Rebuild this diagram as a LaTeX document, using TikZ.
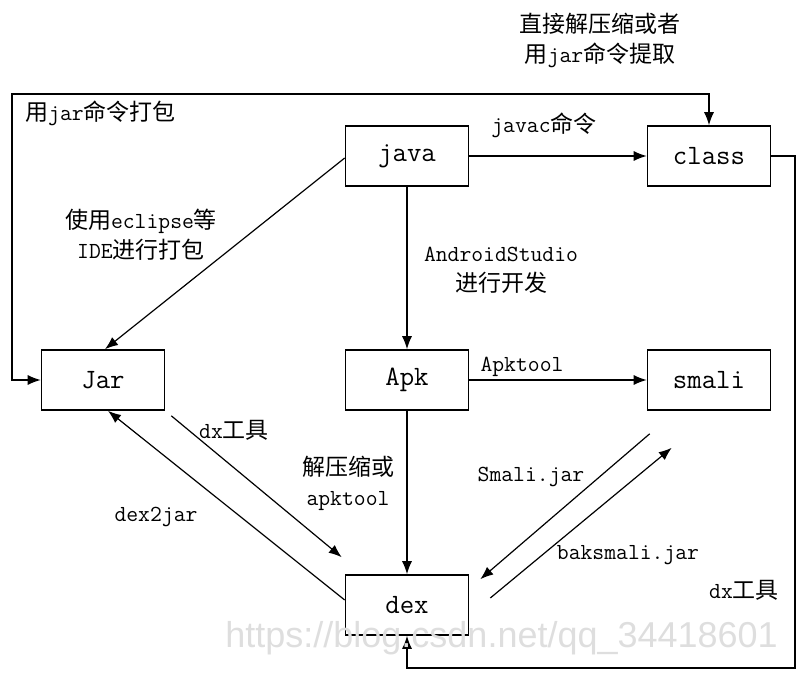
\documentclass[tikz,border=0pt]{standalone}
\usepackage{fontspec}
\newfontfamily\cjk{Noto Sans CJK SC}
\newfontfamily\wmfont{Liberation Sans}
\usetikzlibrary{arrows.meta}
\newcommand\zh[1]{{\cjk #1}}
\begin{document}
\begin{tikzpicture}[x=1pt,y=-1pt,
  box/.style={draw,line width=1.6pt,fill=white,minimum width=123pt,minimum height=60pt,inner sep=0pt,font=\fontsize{28}{30}\selectfont\ttfamily},
  lab/.style={font=\fontsize{23}{30}\selectfont\ttfamily,align=center,inner sep=0pt},
  tip/.tip={Latex[length=13pt,width=10pt]},
  arr/.style={line width=1.2pt,-tip},
  darr/.style={line width=1.2pt,tip-tip}]
\useasboundingbox (0,0) rectangle (804,683);
% boxes
\node[box] (java) at (407,156) {java};
\node[box] (class) at (709,156) {class};
\node[box] (jar) at (103,380) {Jar};
\node[box] (apk) at (407,380) {Apk};
\node[box] (smali) at (709,380) {smali};
\node[box] (dex) at (407,605) {dex};
% helper corners
\coordinate (tl) at (12,94);
\coordinate (br) at (795,668);
% connectors
\draw[darr] (jar.west) -| (tl) -| (class.north);
\draw[arr] (class.east) -| (br) -| (dex.south);
\draw[arr] (java.east) -- (class.west);
\draw[arr] (java.south) -- (apk.north);
\draw[arr] (apk.east) -- (smali.west);
\draw[arr] (apk.south) -- (dex.north);
\draw[arr] ([yshift=-2pt]java.west) -- ([xshift=2pt]jar.north);
\draw[arr] ([xshift=6pt,yshift=-5pt]jar.south east) -- ([xshift=-3pt,yshift=17pt]dex.north west);
\draw[arr] ([yshift=5pt]dex.west) -- ([xshift=5pt]jar.south);
\draw[arr] ([xshift=3pt,yshift=-23pt]smali.south west) -- ([xshift=11pt,yshift=-5pt]dex.north east);
\draw[arr] ([xshift=21pt,yshift=7pt]dex.east) -- ([xshift=25pt,yshift=-37pt]smali.south west);
% labels
\node[lab] (l1) at (600,40) {\zh{直接解压缩或者}\\\zh{用}jar\zh{命令提取}};
\node[lab,anchor=west] (l2) at (25,113) {\zh{用}jar\zh{命令打包}};
\node[lab] (l3) at (544,125) {javac\zh{命令}};
\node[lab] (l4) at (141,235) {\zh{使用}eclipse\zh{等}\\IDE\zh{进行打包}};
\node[lab] (l5) at (501,270) {AndroidStudio\\\zh{进行开发}};
\node[lab] (l6) at (522,367) {Apktool};
\node[lab] (l7) at (234,430) {dx\zh{工具}};
\node[lab] (l8) at (348,483) {\zh{解压缩或}\\apktool};
\node[lab] (l9) at (156,517) {dex2jar};
\node[lab] (l10) at (531,477) {Smali.jar};
\node[lab] (l11) at (628,555) {baksmali.jar};
\node[lab] (l12) at (744,590) {dx\zh{工具}};
% watermark (drawn over the picture, as in the reference)
\node[font=\fontsize{36}{40}\selectfont\wmfont,text=black!13,anchor=east,inner sep=0pt] (wm) at (778,638) {https://blog.csdn.net/qq\_34418601};
\end{tikzpicture}
\end{document}
